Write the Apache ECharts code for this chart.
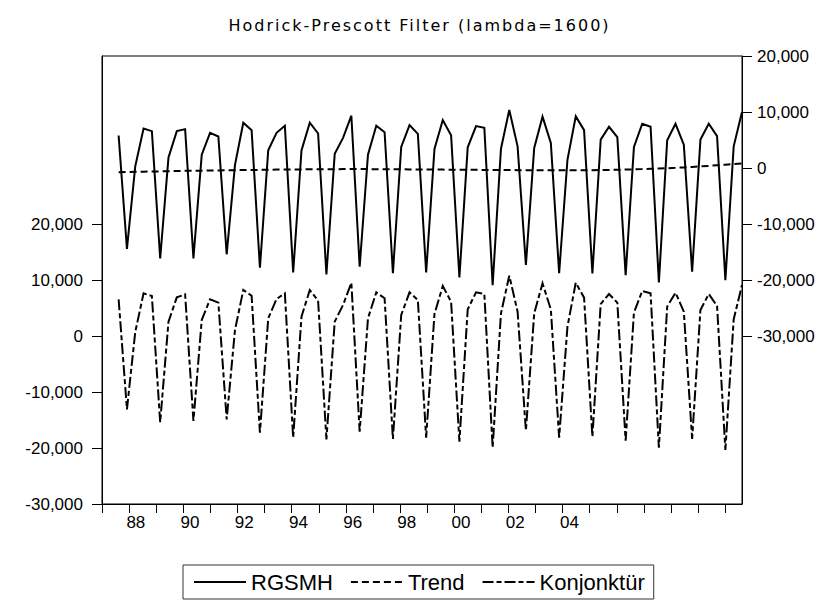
<!DOCTYPE html>
<html>
<head>
<meta charset="utf-8">
<script src="https://cdn.jsdelivr.net/npm/echarts@6/dist/echarts.min.js"></script>
<style>
  html, body { margin: 0; background: #fff; }
  #chart { width: 839px; height: 605px; }
  /* EViews-Titel ist gesperrt gesetzt */
  #chart text[style*="DejaVu"] { letter-spacing: 2px; }
</style>
</head>
<body>
<div id="chart"></div>
<script>
// Quartale 1987Q1 .. 2006Q2, Werte beginnen mit 1987Q3
const quarters = [];
for (let y = 1987; y <= 2006; y++) {
  for (let q = 1; q <= 4; q++) {
    if (y === 2006 && q > 2) break;
    quarters.push(y + 'Q' + q);
  }
}

// RGSMH (rechte Achse)
const rgsmh = [
  5800, -14440,
  300, 7060, 6580, -16130,
  1890, 6580, 6940, -16130,
  2370, 6280, 5620, -15410,
  570, 8080, 6760, -17810,
  3150, 6280, 7540, -18650,
  3150, 8080, 6160, -19010,
  2550, 5380, 9340, -17630,
  2370, 7540, 6400, -18770,
  3750, 7660, 6100, -18650,
  3390, 8560, 5860, -19550,
  3690, 7480, 7180, -20930,
  3450, 10360, 3870, -17330,
  3570, 9160, 4470, -18770,
  1470, 9220, 6760, -18830,
  5070, 7360, 5500, -19130,
  3750, 7900, 7360, -20450,
  4950, 7900, 4170, -18530,
  5070, 7900, 5680, -20030,
  3870, 10000
];

// Trend (rechte Achse)
const trend = [
  -750, -720,
  -690, -660, -630, -600,
  -570, -540, -510, -490,
  -470, -450, -430, -410,
  -390, -370, -350, -330,
  -310, -290, -270, -260,
  -250, -240, -230, -220,
  -210, -200, -200, -200,
  -200, -210, -220, -230,
  -240, -250, -260, -270,
  -280, -290, -300, -310,
  -320, -330, -340, -350,
  -360, -370, -380, -380,
  -380, -390, -400, -400,
  -400, -400, -390, -380,
  -360, -340, -310, -280,
  -240, -200, -150, -100,
  -40, 30, 110, 190,
  280, 380, 490, 600,
  700, 810
];

// Konjunktur-Komponente (linke Achse)
const konj = [
  6550, -13100,
  700, 7620, 7140, -15420,
  2560, 6900, 7440, -15180,
  2860, 6550, 5950, -14880,
  1070, 8210, 7200, -17260,
  3150, 6610, 7620, -18150,
  3450, 8210, 6310, -18450,
  2560, 5540, 9520, -17080,
  3150, 7800, 6730, -18390,
  3750, 7800, 6430, -18150,
  3930, 8930, 6130, -18870,
  4760, 7800, 7500, -19940,
  4050, 10770, 4350, -16900,
  4050, 9400, 4760, -18150,
  1670, 9520, 6850, -17980,
  5710, 7500, 5950, -18690,
  4170, 8040, 7620, -19940,
  5240, 7740, 4350, -18390,
  4640, 7500, 5360, -20360,
  2980, 9100
];

// Achsenbeschriftung
const yearTicks = [1987, 1988, 1989, 1990, 1991, 1992, 1993, 1994, 1995, 1996, 1997, 1998,
  1999, 2000, 2001, 2002, 2003, 2004, 2005, 2006, 2007, 2008, 2009, 2010];
const labelYears = [1988, 1990, 1992, 1994, 1996, 1998, 2000, 2002, 2004];
const yearLabels = ['88', '90', '92', '94', '96', '98', '00', '02', '04'];
const leftTicks = [-30000, -20000, -10000, 0, 10000, 20000];
const rightTicks = [-30000, -20000, -10000, 0, 10000, 20000];

const FONT = 'Liberation Sans, Arial, sans-serif';
const black = '#000';
const fmt = v => v.toLocaleString('en-US');

const yAxisBase = {
  type: 'value',
  interval: 10000,
  splitLine: { show: false },
  axisLine: { show: true, onZero: false, lineStyle: { color: black, width: 1 } },
  axisLabel: { color: black, fontFamily: FONT, fontSize: 17, formatter: fmt }
};

const option = {
  animation: false,
  backgroundColor: '#fff',
  title: {
    text: 'Hodrick-Prescott Filter (lambda=1600)',
    left: 'center',
    top: 12,
    textStyle: { fontFamily: 'DejaVu Sans', fontSize: 16, fontWeight: 'normal', color: black }
  },
  legend: {
    left: 183,
    top: 565,
    orient: 'horizontal',
    itemWidth: 52,
    itemHeight: 14,
    itemGap: 17,
    padding: [6, 9, 6, 10],
    borderColor: '#333',
    borderWidth: 1,
    itemStyle: { color: 'transparent', borderWidth: 0, opacity: 0 },
    textStyle: { fontFamily: FONT, fontSize: 22, color: black },
    data: ['RGSMH', 'Trend', 'Konjonktür']
  },
  grid: {
    left: 102, right: 97, top: 56, bottom: 101,
    show: true, borderColor: black, borderWidth: 1
  },
  xAxis: [
    { type: 'category', data: quarters, boundaryGap: false, show: false },
    {
      type: 'value',
      min: 1987,
      max: 2010.62,
      interval: 1,
      position: 'bottom',
      splitLine: { show: false },
      axisLine: { onZero: false, lineStyle: { color: black, width: 1 } },
      axisTick: { customValues: yearTicks, length: 9, lineStyle: { color: black } },
      axisLabel: {
        customValues: labelYears.map(y => y + 0.25),
        formatter: v => yearLabels[labelYears.indexOf(Math.floor(v))],
        margin: 10,
        color: black,
        fontFamily: FONT,
        fontSize: 17
      }
    }
  ],
  yAxis: [
    Object.assign({}, yAxisBase, {
      position: 'left',
      min: -30000,
      max: 50000,
      axisTick: { customValues: leftTicks, length: 10, lineStyle: { color: black } },
      axisLabel: Object.assign({}, yAxisBase.axisLabel, { customValues: leftTicks, margin: 19 })
    }),
    Object.assign({}, yAxisBase, {
      position: 'right',
      min: -60000,
      max: 20000,
      axisTick: { customValues: rightTicks, length: 10, lineStyle: { color: black } },
      axisLabel: Object.assign({}, yAxisBase.axisLabel, { customValues: rightTicks, margin: 15 })
    })
  ],
  series: [
    {
      name: 'RGSMH', type: 'line', xAxisIndex: 0, yAxisIndex: 1,
      data: [null, null].concat(rgsmh), symbol: 'none',
      itemStyle: { color: black },
      lineStyle: { color: black, width: 2, join: 'miter' }
    },
    {
      name: 'Trend', type: 'line', xAxisIndex: 0, yAxisIndex: 1,
      data: [null, null].concat(trend), symbol: 'none',
      itemStyle: { color: black },
      lineStyle: { color: black, width: 2, type: [7, 4] }
    },
    {
      name: 'Konjonktür', type: 'line', xAxisIndex: 0, yAxisIndex: 0,
      data: [null, null].concat(konj), symbol: 'none',
      itemStyle: { color: black },
      lineStyle: { color: black, width: 2, type: [11, 3, 5, 3], join: 'miter' }
    }
  ]
};

const chart = echarts.init(document.getElementById('chart'), null, { renderer: 'svg' });
chart.setOption(option);
</script>
</body>
</html>
